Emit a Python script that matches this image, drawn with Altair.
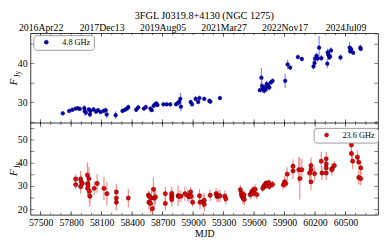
import altair as alt
import pandas as pd

TITLE = "3FGL J0319.8+4130 (NGC 1275)"
FONT = "Liberation Serif"

# ---- 4.8 GHz (top panel) ----
top_mjd = [57718, 57781, 57813, 57845, 57865, 57885, 57930, 57935, 57945, 57975, 57985, 57990,
           58020, 58045, 58065, 58090, 58120, 58140, 58150, 58238, 58305, 58330, 58350, 58363,
           58440, 58460, 58516, 58535, 58580, 58593, 58612, 58625, 58640, 58650, 58708, 58740,
           58775, 58833, 58848, 58862, 58875, 58880, 58976, 58990, 59025, 59050, 59063, 59110,
           59160, 59170, 59264, 59657, 59672, 59678, 59685, 59700, 59705, 59715, 59725, 59740,
           59750, 59765, 59782, 59906, 59930, 59955, 60031, 60070, 60185, 60195, 60200, 60215,
           60225, 60240, 60262, 60320, 60325, 60330, 60340, 60347, 60357, 60450, 60540, 60545,
           60555, 60575, 60645, 60650]
top_flux = [27.3, 27.9, 28.2, 28.5, 28.6, 28.4, 28.6, 27.8, 27.5, 28.3, 27.0, 27.9,
            28.3, 27.7, 28.1, 27.6, 27.9, 28.1, 27.0, 26.8, 27.9, 28.2, 28.5, 28.9,
            28.2, 28.8, 28.5, 28.9, 28.5, 28.1, 29.2, 29.6, 29.8, 29.4, 29.6, 29.6,
            29.6, 29.6, 29.9, 30.2, 31.0, 29.0, 30.2, 29.6, 31.0, 30.2, 31.2, 31.0,
            30.5, 30.3, 31.2, 33.2, 36.4, 34.3, 33.5, 33.1, 33.9, 33.4, 34.8, 34.3,
            33.9, 35.2, 35.6, 35.6, 39.8, 39.0, 41.7, 41.2, 39.3, 40.2, 41.3, 42.0,
            41.3, 44.1, 41.4, 40.0, 42.9, 42.3, 41.6, 41.9, 43.4, 41.6, 44.1, 43.2,
            43.7, 42.8, 44.1, 43.8]
top_err = [0.6, 0.4, 0.4, 0.4, 0.4, 0.4, 0.8, 1.2, 0.7, 0.5, 0.8, 0.6,
           0.5, 0.5, 0.5, 0.5, 0.5, 0.5, 1.0, 1.0, 0.5, 0.5, 0.5, 0.6,
           0.5, 0.6, 0.5, 0.6, 0.5, 0.5, 0.5, 0.6, 0.5, 0.5, 0.5, 0.5,
           0.6, 0.5, 0.5, 0.8, 1.5, 1.2, 0.5, 0.5, 0.7, 0.5, 0.6, 0.5,
           0.6, 0.6, 0.5, 0.5, 2.5, 1.2, 1.0, 0.8, 0.8, 0.8, 0.8, 0.8,
           0.8, 0.6, 0.6, 1.8, 1.2, 0.6, 0.6, 0.6, 0.8, 0.8, 0.9, 0.8,
           0.8, 3.0, 0.8, 1.2, 1.0, 0.8, 0.7, 0.7, 0.8, 0.8, 1.5, 0.8,
           0.8, 0.6, 0.8, 0.6]

# ---- 23.6 GHz (bottom panel) ----
bot_mjd = [57845, 57845, 57893, 57900, 57893, 57910, 57960, 57962, 57965, 57962, 57975, 57980,
           57985, 58027, 58056, 58123, 58152, 58245, 58245, 58245, 58363, 58560, 58565, 58570,
           58580, 58590, 58600, 58610, 58620, 58630, 58727, 58727, 58790, 58790, 58790, 58790,
           58852, 58860, 58880, 58920, 58945, 58960, 58976, 58982, 58996, 59063, 59068, 59100,
           59110, 59110, 59168, 59226, 59235, 59250, 59264, 59312, 59322, 59465, 59475, 59478,
           59490, 59495, 59500, 59504, 59561, 59575, 59580, 59590, 59600, 59610, 59628, 59686,
           59695, 59705, 59715, 59720, 59730, 59745, 59750, 59782, 59887, 59900, 59912, 59926,
           59983, 59983, 60040, 60050, 60070, 60146, 60160, 60160, 60160, 60195, 60261, 60268,
           60310, 60310, 60310, 60310, 60365, 60365, 60390, 60558, 60558, 60570, 60616, 60630,
           60650, 60630, 60650]
bot_flux = [33.2, 30.8, 33.2, 32.0, 30.0, 31.3, 34.9, 31.3, 30.7, 29.2, 33.4, 27.9,
            25.8, 29.2, 31.3, 29.2, 26.9, 27.6, 25.0, 23.2, 25.0, 26.2, 23.2, 25.8,
            22.7, 25.0, 20.4, 28.8, 25.0, 25.5, 26.9, 22.7, 27.0, 26.0, 25.2, 24.4,
            26.0, 25.8, 25.8, 26.9, 26.2, 25.6, 27.7, 25.8, 23.2, 26.0, 23.2, 23.6,
            22.3, 24.0, 26.2, 26.9, 25.8, 25.8, 26.0, 25.8, 24.7, 28.6, 27.1, 26.0,
            25.0, 25.8, 26.5, 24.4, 26.5, 26.9, 27.9, 28.3, 27.1, 28.8, 26.5, 29.2,
            30.0, 30.7, 31.3, 30.3, 31.3, 31.6, 30.0, 30.9, 30.7, 32.0, 31.3, 35.3,
            36.7, 38.7, 37.2, 33.4, 37.2, 35.8, 39.0, 37.2, 32.0, 35.5, 40.9, 35.8,
            41.9, 39.7, 38.0, 35.8, 37.6, 37.2, 39.0, 47.9, 44.2, 40.9, 42.6, 40.5,
            38.0, 33.9, 33.4]
bot_err = [2.0, 2.0, 3.5, 3.0, 3.0, 2.5, 5.5, 4.5, 4.0, 3.5, 5.0, 5.0,
           4.5, 3.0, 4.0, 5.0, 5.0, 3.5, 3.5, 3.5, 4.0, 2.0, 3.0, 2.0,
           4.0, 3.0, 3.0, 5.0, 4.0, 3.0, 3.0, 3.0, 3.0, 3.0, 3.0, 3.0,
           4.5, 2.5, 2.5, 3.0, 2.5, 2.5, 2.0, 2.0, 2.0, 3.0, 3.0, 3.0,
           3.0, 3.0, 2.5, 2.5, 2.5, 2.5, 2.5, 2.5, 2.5, 2.0, 2.0, 2.0,
           2.5, 2.0, 2.0, 2.5, 2.0, 2.0, 2.0, 2.0, 2.0, 2.0, 2.0, 1.5,
           1.5, 1.5, 1.5, 1.5, 1.5, 1.5, 1.5, 1.5, 2.0, 2.5, 2.0, 3.0,
           3.5, 3.0, 5.5, 9.0, 4.5, 4.0, 3.5, 3.5, 3.5, 3.0, 4.0, 3.0,
           3.0, 3.0, 3.0, 3.0, 2.5, 2.5, 2.0, 3.0, 3.0, 3.5, 3.0, 3.0,
           3.0, 3.0, 3.0]

# ---- axis labels / ticks ----
mjd_labels = [57500, 57800, 58100, 58400, 58700, 59000, 59300, 59600, 59900, 60200, 60500]
date_ticks = [57500, 58100, 58700, 59300, 59900, 60500]
date_labels = ["2016Apr22", "2017Dec13", "2019Aug05", "2021Mar27", "2022Nov17", "2024Jul09"]
x_minor = list(range(57500, 60801, 100))
top_y_labels = [30, 40]
top_y_ticks = [25, 30, 35, 40, 45]
bot_y_labels = [20, 30, 40, 50]
bot_y_ticks = [20, 25, 30, 35, 40, 45, 50, 55]

W, H1, H2 = 356, 92, 94
H = H1 + H2
XD = [57400, 60820]
TOP_YD = [24.8, 47.8]
BOT_YD = [17.8, 57.3]

date_expr = "[" + ",".join("'%s'" % d for d in date_labels) + "][round((datum.value-57500)/600)]"

xs = alt.Scale(domain=XD, nice=False, zero=False)
ys_top = alt.Scale(domain=TOP_YD, range=[H1, 0], nice=False, zero=False)
ys_bot = alt.Scale(domain=BOT_YD, range=[H, H1], nice=False, zero=False)

top_axis = alt.Axis(orient="top", values=date_ticks, labelExpr=date_expr, ticks=False, domain=False, grid=False,
                    title=None, labelFontSize=10, labelPadding=1)
bot_axis = alt.Axis(orient="bottom", values=mjd_labels, ticks=False, domain=False, grid=False, format="d",
                    title="MJD", labelFontSize=10, labelPadding=3, titlePadding=1, titleFontSize=10,
                    titleFontWeight="normal", labelFlush=False)


def legend(x, y):
    return alt.Legend(title=None, orient="none", legendX=x, legendY=y,
                      fillColor="white", strokeColor="#999999", cornerRadius=3,
                      padding=3, symbolType="circle", symbolSize=18,
                      symbolStrokeColor="black", symbolStrokeWidth=0.35,
                      labelFont=FONT, labelFontSize=8.5, labelOffset=12, symbolOffset=6)


def data_layers(mjd, flux, err, ys, fill, errcol, msize, label, xaxis, leg):
    df = pd.DataFrame({"mjd": mjd, "flux": flux, "err": err, "band": label})
    base = alt.Chart(df).transform_calculate(lo="datum.flux - datum.err", hi="datum.flux + datum.err")
    bars = base.mark_rule(color=errcol, strokeWidth=1.2).encode(
        x=alt.X("mjd:Q", scale=xs, axis=xaxis),
        y=alt.Y("lo:Q", scale=ys, axis=None),
        y2="hi:Q",
    )
    pts = base.mark_circle(size=msize, stroke="black", strokeWidth=0.35, opacity=1).encode(
        x=alt.X("mjd:Q", scale=xs, axis=None),
        y=alt.Y("flux:Q", scale=ys, axis=None),
        fill=alt.Fill("band:N", scale=alt.Scale(domain=[label], range=[fill]), legend=leg),
    )
    return [bars, pts]


def yticks_layers(vals, labels, ys, ymid):
    out = []
    for xpos in [2, W - 2]:
        out.append(alt.Chart(pd.DataFrame({"v": vals})).mark_tick(orient="horizontal", size=4, thickness=0.7,
                                                                 color="black").encode(
            y=alt.Y("v:Q", scale=ys, axis=None), x=alt.value(xpos)))
    out.append(alt.Chart(pd.DataFrame({"v": labels})).mark_text(
        font=FONT, fontSize=10, align="right", baseline="middle", color="black").encode(
        y=alt.Y("v:Q", scale=ys, axis=None), x=alt.value(-3), text=alt.Text("v:Q", format="d")))
    out.append(alt.Chart(pd.DataFrame({"t": ["F"]})).mark_text(
        angle=270, font=FONT, fontStyle="italic", fontSize=11, align="center", baseline="alphabetic").encode(
        text="t:N", x=alt.value(-14), y=alt.value(ymid + 4)))
    out.append(alt.Chart(pd.DataFrame({"t": ["Jy"]})).mark_text(
        angle=270, font=FONT, fontSize=7.5, align="center", baseline="alphabetic").encode(
        text="t:N", x=alt.value(-11), y=alt.value(ymid - 4)))
    return out


layers = []
layers += data_layers(top_mjd, top_flux, top_err, ys_top, "#0000cc", "#8080ff", 15, "4.8 GHz", top_axis,
                      legend(3, 2))
layers += data_layers(bot_mjd, bot_flux, bot_err, ys_bot, "#ee0000", "#f38a8a", 20, "23.6 GHz", bot_axis,
                      legend(290, H1 + 5))

# inward x ticks on top edge, both sides of the shared middle edge, and bottom edge
for vals, L, ypos in [(x_minor, 2, 1), (date_ticks, 4, 2),
                      (x_minor, 2, H1 - 1), (mjd_labels, 4, H1 - 2),
                      (x_minor, 2, H1 + 1), (mjd_labels, 4, H1 + 2),
                      (x_minor, 2, H - 1), (mjd_labels, 4, H - 2)]:
    layers.append(alt.Chart(pd.DataFrame({"v": vals})).mark_tick(orient="vertical", size=L, thickness=0.7,
                                                                 color="black").encode(
        x=alt.X("v:Q", scale=xs, axis=None), y=alt.value(ypos)))

layers += yticks_layers(top_y_ticks, top_y_labels, ys_top, H1 / 2)
layers += yticks_layers(bot_y_ticks, bot_y_labels, ys_bot, H1 + H2 / 2)

# shared edge between the two panels
layers.append(alt.Chart(pd.DataFrame({"v": [0]})).mark_rule(color="black", strokeWidth=0.8).encode(
    x=alt.value(0), x2=alt.value(W), y=alt.value(H1)))

chart = alt.layer(*layers).resolve_scale(
    y="independent", fill="independent"
).resolve_axis(x="independent").resolve_legend(fill="independent").properties(
    width=W, height=H,
    title=alt.TitleParams(TITLE, font=FONT, fontSize=10.5, fontWeight="normal", anchor="middle", offset=1,
                          color="black"),
    padding={"left": 0, "top": 0, "right": 2, "bottom": 0},
).configure_view(stroke="black", strokeWidth=0.8).configure_axis(
    labelFont=FONT, titleFont=FONT, labelColor="black", titleColor="black"
)

chart.save("out.html", embed_options={"renderer": "svg", "actions": False})
